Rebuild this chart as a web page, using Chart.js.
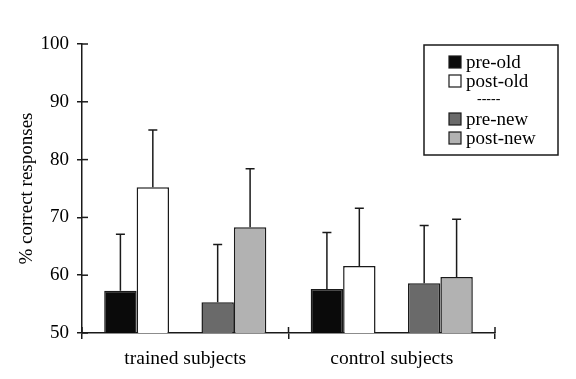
<!DOCTYPE html>
<html><head><meta charset="utf-8">
<script src="https://cdn.jsdelivr.net/npm/chart.js@4.4.1/dist/chart.umd.min.js"></script>
<style>html,body{margin:0;padding:0;background:#fff}#wrap{width:576px;height:379px}</style>
</head><body><div id="wrap"><canvas id="c" width="576" height="379"></canvas></div>
<script>
const categories = ['trained subjects', 'control subjects'];
const preOld  = [57.3, 57.6];
const postOld = [75.2, 61.6];
const preNew  = [55.3, 58.6];
const postNew = [68.3, 59.7];
const preOldSD  = [9.8, 9.8];
const postOldSD = [9.9, 10.0];
const preNewSD  = [10.0, 10.0];
const postNewSD = [10.1, 10.0];
const yTicks = [50, 60, 70, 80, 90, 100];
const yTitle = '% correct responses';

const FONT = '"Liberation Serif", "Times New Roman", serif';
const INK = '#1a1a1a';

const errorBars = {
  id: 'errorBars',
  afterDatasetsDraw(chart) {
    const ctx = chart.ctx, y = chart.scales.y;
    ctx.save();
    ctx.strokeStyle = INK; ctx.lineWidth = 1.5;
    chart.data.datasets.forEach((ds, di) => {
      if (!ds.sd) return;
      const meta = chart.getDatasetMeta(di);
      meta.data.forEach((bar, i) => {
        const top = y.getPixelForValue(ds.data[i]);
        const end = y.getPixelForValue(ds.data[i] + ds.sd[i]);
        ctx.beginPath();
        ctx.moveTo(bar.x, top); ctx.lineTo(bar.x, end);
        ctx.moveTo(bar.x - 4.5, end); ctx.lineTo(bar.x + 4.5, end);
        ctx.stroke();
      });
    });
    ctx.restore();
  }
};

const innerTicks = {
  id: 'innerTicks',
  afterDraw(chart) {
    const ctx = chart.ctx, y = chart.scales.y, x = chart.scales.x;
    ctx.save(); ctx.strokeStyle = INK; ctx.lineWidth = 1.5;
    y.ticks.forEach((t, i) => {
      const py = y.getPixelForTick(i);
      ctx.beginPath(); ctx.moveTo(x.left, py); ctx.lineTo(x.left + 6, py); ctx.stroke();
    });
    const n = x.ticks.length;
    const xs = [];
    for (let i = 0; i <= n; i++) xs.push(x.getPixelForValue(i - 0.5));
    xs.forEach(px => { ctx.beginPath(); ctx.moveTo(px, y.bottom); ctx.lineTo(px, y.bottom - 6); ctx.stroke(); });
    ctx.restore();
  }
};

const boxLegend = {
  id: 'boxLegend',
  afterDraw(chart) {
    const ctx = chart.ctx;
    const L = 424, T = 45, W = 134, H = 110;
    ctx.save();
    ctx.strokeStyle = INK; ctx.lineWidth = 1.5;
    ctx.strokeRect(L, T, W, H);
    ctx.textBaseline = 'middle'; ctx.fillStyle = '#000'; ctx.textAlign = 'left';
    chart.data.datasets.forEach((ds, i) => {
      const cy = 62 + i * 19;
      if (ds.sd) {
        ctx.fillStyle = ds.backgroundColor; ctx.fillRect(449, cy - 6, 12, 12);
        ctx.lineWidth = 1.2; ctx.strokeRect(449, cy - 6, 12, 12);
        ctx.fillStyle = '#000';
        ctx.font = '19px ' + FONT;
        ctx.fillText(ds.label, 466, cy + 1);
      } else {
        ctx.font = '14px ' + FONT;
        ctx.fillText(ds.label, 477, cy - 1);
      }
    });
    ctx.restore();
  }
};

const mk = (label, data, sd, color) => ({
  label, data, sd, backgroundColor: color, borderColor: INK, borderWidth: 1.5,
  borderSkipped: 'bottom', categoryPercentage: 0.785, barPercentage: 1.0
});

new Chart(document.getElementById('c'), {
  type: 'bar',
  data: {
    labels: categories,
    datasets: [
      mk('pre-old', preOld, preOldSD, '#0a0a0a'),
      mk('post-old', postOld, postOldSD, '#ffffff'),
      { label: '-----', data: categories.map(() => null), categoryPercentage: 0.785, barPercentage: 1.0 },
      mk('pre-new', preNew, preNewSD, '#6a6a6a'),
      mk('post-new', postNew, postNewSD, '#b2b2b2')
    ]
  },
  options: {
    responsive: false, animation: false, devicePixelRatio: 1,
    layout: { padding: { left: 0, top: 44, right: 81, bottom: 0 } },
    plugins: { legend: { display: false }, tooltip: { enabled: false } },
    scales: {
      x: {
        type: 'category', offset: true,
        grid: { offset: true, drawOnChartArea: false, drawTicks: true, tickLength: 6, color: INK, lineWidth: 1.5 },
        border: { color: INK, width: 1.5 },
        ticks: { color: '#000', font: { family: FONT, size: 19.5 }, padding: 8 },
        afterFit: s => { s.height = 46; }
      },
      y: {
        min: 50, max: 100,
        afterBuildTicks: s => { s.ticks = yTicks.map(v => ({ value: v })); },
        grid: { drawOnChartArea: false, drawTicks: true, tickLength: 5, color: INK, lineWidth: 1.5 },
        border: { color: INK, width: 1.5 },
        ticks: { color: '#000', font: { family: FONT, size: 19 }, padding: 8 },
        title: { display: true, text: yTitle, color: '#000', font: { family: FONT, size: 19 }, padding: { top: 16, bottom: 0 } },
        afterFit: s => { s.width = 82; }
      }
    }
  },
  plugins: [errorBars, innerTicks, boxLegend]
});
</script></body></html>
